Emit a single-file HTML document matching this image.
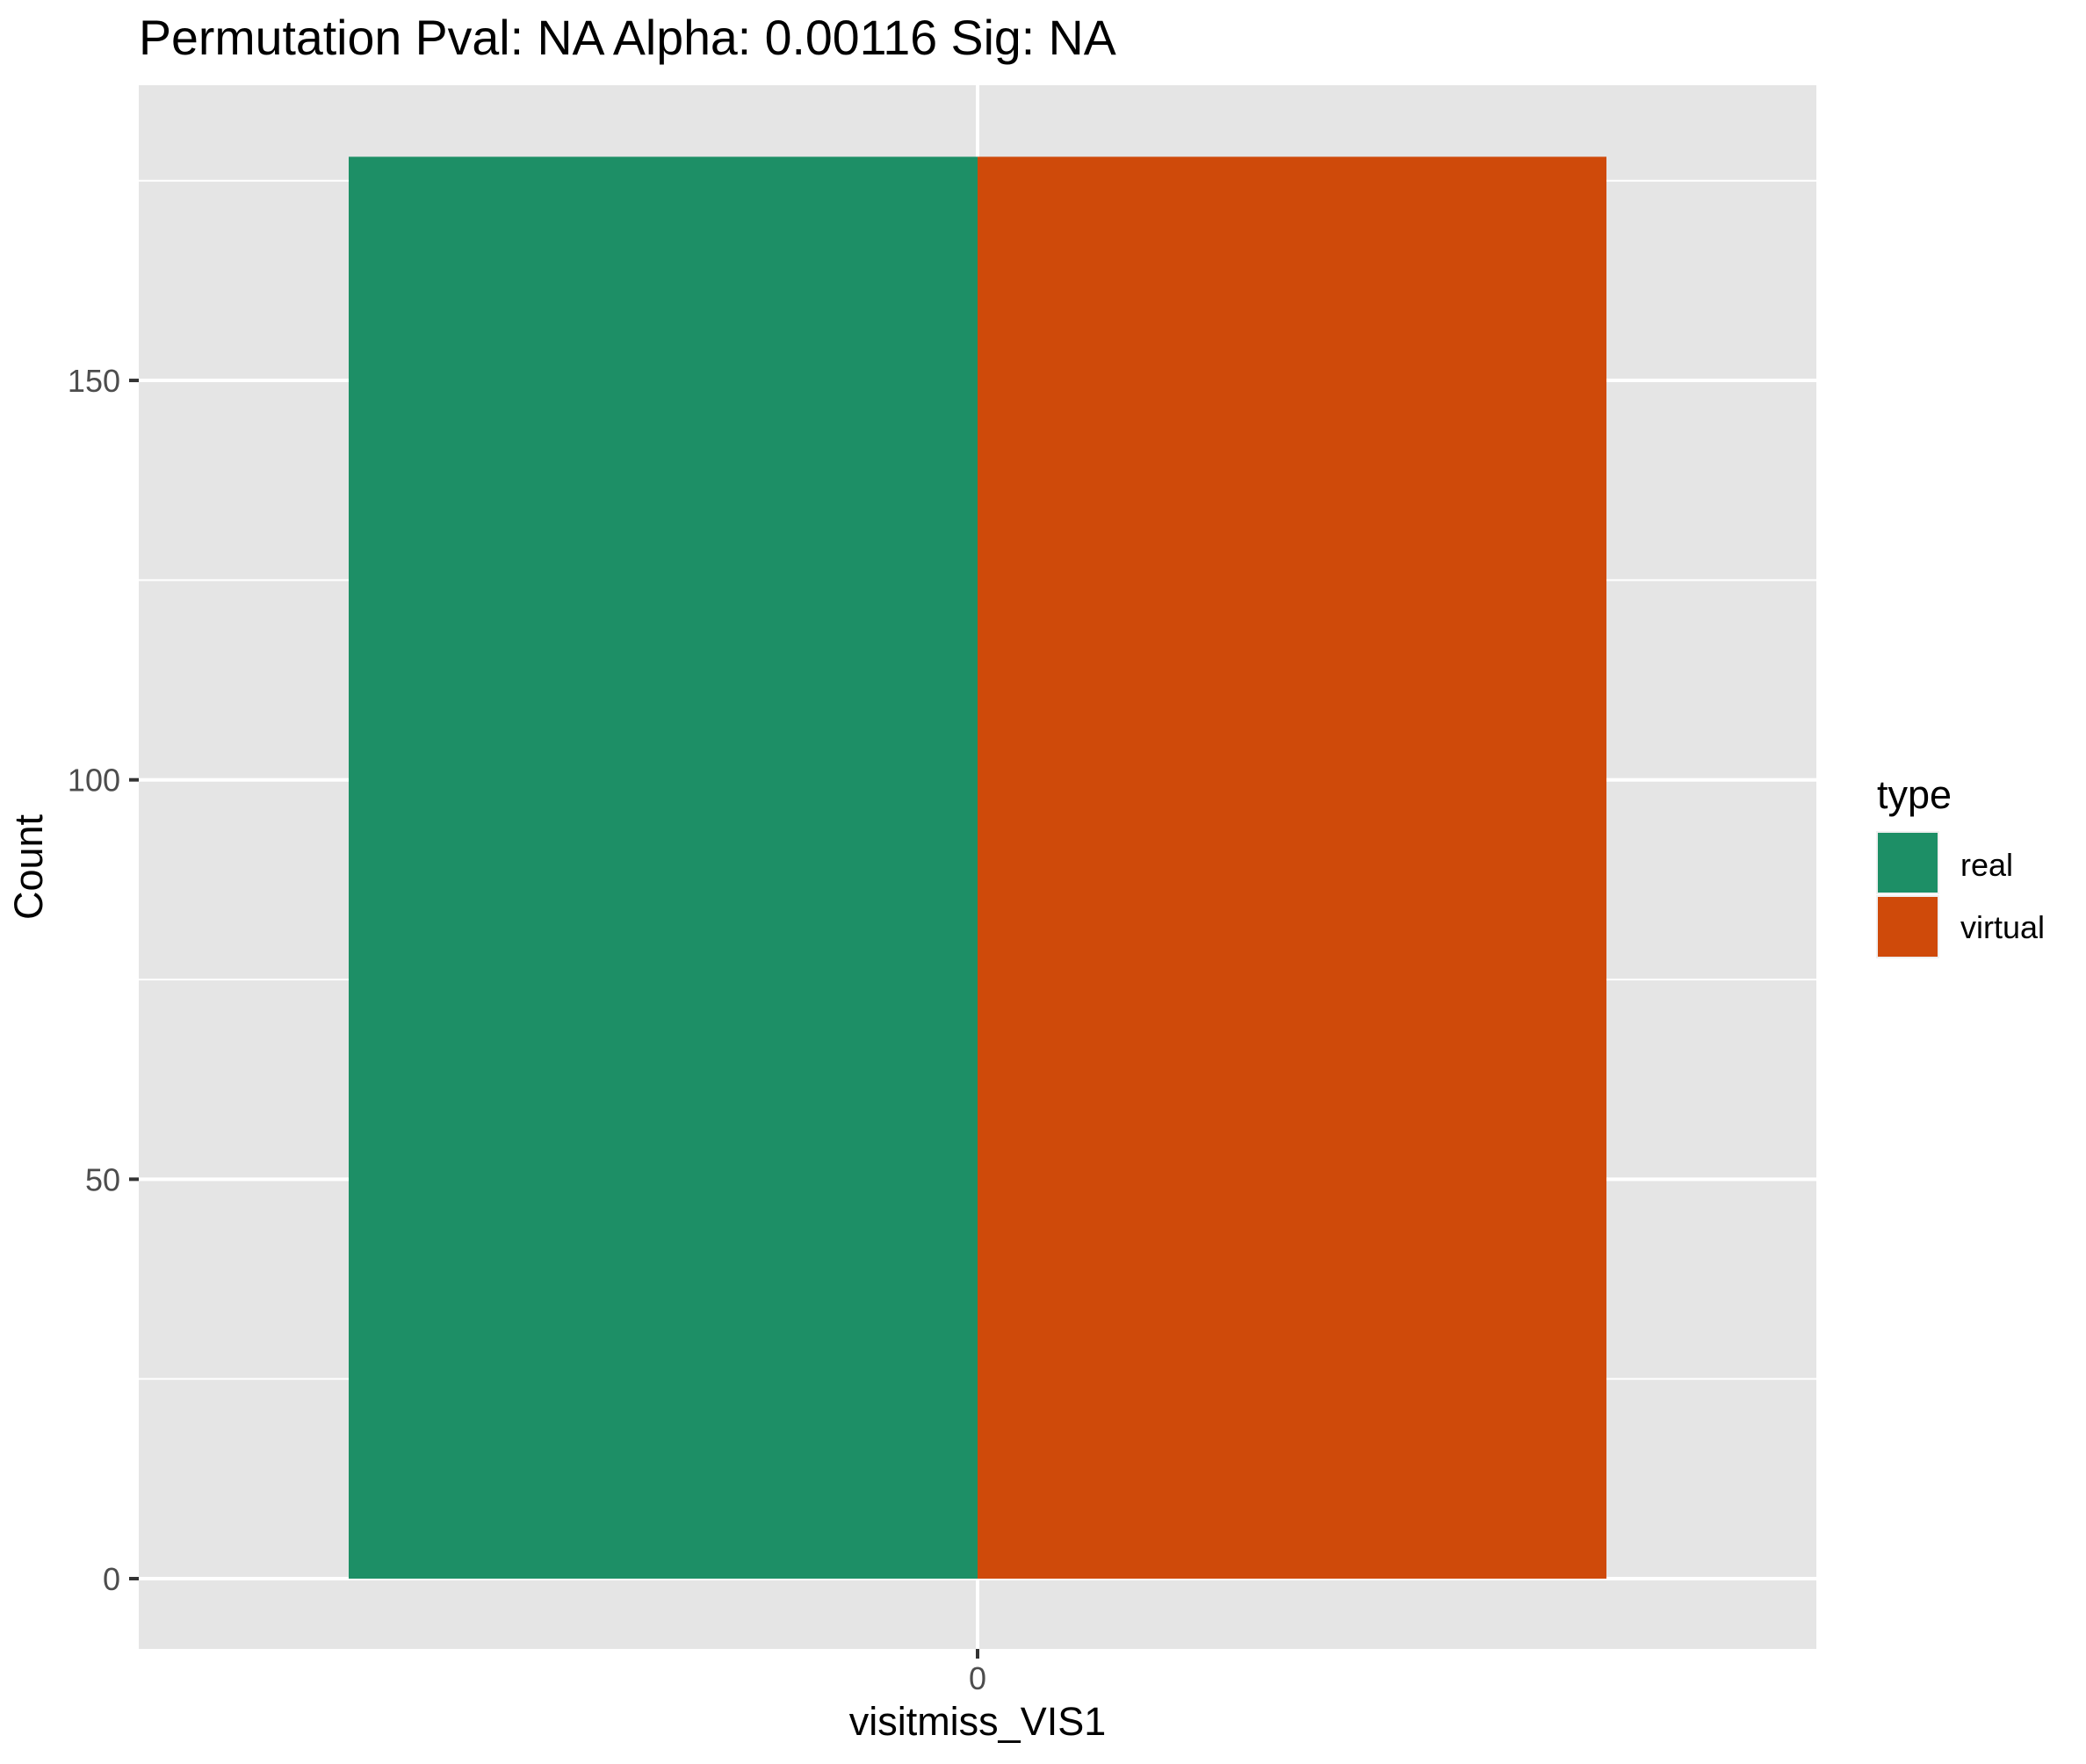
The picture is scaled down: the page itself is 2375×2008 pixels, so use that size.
<!DOCTYPE html>
<html><head><meta charset="utf-8"><style>body{margin:0;background:#fff}svg{display:block;font-family:"Liberation Sans",Arial,sans-serif}</style></head>
<body>
<svg id="c" width="2375" height="2008" xmlns="http://www.w3.org/2000/svg">
<text x="158" y="62" font-size="55.5" fill="#000">Permutation Pval: NA Alpha: 0.00116 Sig: NA</text>
<rect x="158" y="97" width="1910" height="1780" fill="#e5e5e5"/>
<g id="grid"></g><g id="bars"></g><g id="axes"></g>
<text x="1113" y="1975" font-size="45" text-anchor="middle" fill="#000">visitmiss_VIS1</text>
<text transform="translate(48,987) rotate(-90)" font-size="45" text-anchor="middle" fill="#000">Count</text>
<g>
<text x="2137" y="920" font-size="45" fill="#000">type</text>
<rect x="2136" y="946" width="72" height="72" fill="#f0f0f0"/>
<rect id="lk0" x="2138" y="948" width="68" height="68" fill="#1d8f66"/>
<text x="2232" y="997" font-size="36" fill="#000">real</text>
<rect x="2136" y="1019" width="72" height="72" fill="#f0f0f0"/>
<rect id="lk1" x="2138" y="1021" width="68" height="68" fill="#cf4a0a"/>
<text x="2232" y="1068" font-size="36" fill="#000">virtual</text>
</g>
</svg>
<script>
const categories = ["0"];
const seriesNames = ["real", "virtual"];
const realValues = [178];
const virtualValues = [178];
const yTicks = [0, 50, 100, 150];
const yMinorTicks = [25, 75, 125, 175];
const seriesColors = ["#1d8f66", "#cf4a0a"];

const NS = "http://www.w3.org/2000/svg";
const pl = 158, pr = 2068, pt = 97, pb = 1877;
const y0px = 1797, unitPx = 9.093;
function yScale(v){ return y0px - v * unitPx; }
function xScale(i){ return 1113 + (i - 0) * 1432; }
const barHalf = 716;
function mk(tag, attrs, parent){ const e=document.createElementNS(NS,tag); for(const k in attrs) e.setAttribute(k,attrs[k]); parent.appendChild(e); return e; }
const grid=document.getElementById('grid'), bars=document.getElementById('bars'), axes=document.getElementById('axes');
document.getElementById('lk0').setAttribute('fill', seriesColors[0]);
document.getElementById('lk1').setAttribute('fill', seriesColors[1]);
yMinorTicks.forEach(v=>{
  const l=mk('line',{x1:pl,x2:pr,y1:yScale(v),y2:yScale(v),stroke:'#fff','stroke-width':2},grid);
  
  
});
yTicks.forEach(v=>{
  const l=mk('line',{x1:pl,x2:pr,y1:yScale(v),y2:yScale(v),stroke:'#fff','stroke-width':4},grid);
  
  
  const t=mk('line',{x1:147,x2:158,y1:yScale(v),y2:yScale(v),stroke:'#333','stroke-width':4},axes);
  
  
  const tx=mk('text',{x:137,y:yScale(v)+13,'font-size':36,'text-anchor':'end',fill:'#4d4d4d'},axes);
  tx.textContent=v;
  
  
});
categories.forEach((c,i)=>{
  const x=xScale(i);
  const g=mk('line',{x1:x,x2:x,y1:pt,y2:pb,stroke:'#fff','stroke-width':4},grid);
  
  
  const r=mk('rect',{x:x-barHalf,y:yScale(realValues[i]),width:barHalf,height:yScale(0)-yScale(realValues[i]),fill:seriesColors[0]},bars);
  
  
  const v=mk('rect',{x:x,y:yScale(virtualValues[i]),width:barHalf,height:yScale(0)-yScale(virtualValues[i]),fill:seriesColors[1]},bars);
  
  
  const t=mk('line',{x1:x,x2:x,y1:pb,y2:pb+11,stroke:'#333','stroke-width':4},axes);
  
  
  const tx=mk('text',{x:x,y:1923,'font-size':36,'text-anchor':'middle',fill:'#4d4d4d'},axes);
  tx.textContent=c;
  
  
});
</script>
</body></html>
